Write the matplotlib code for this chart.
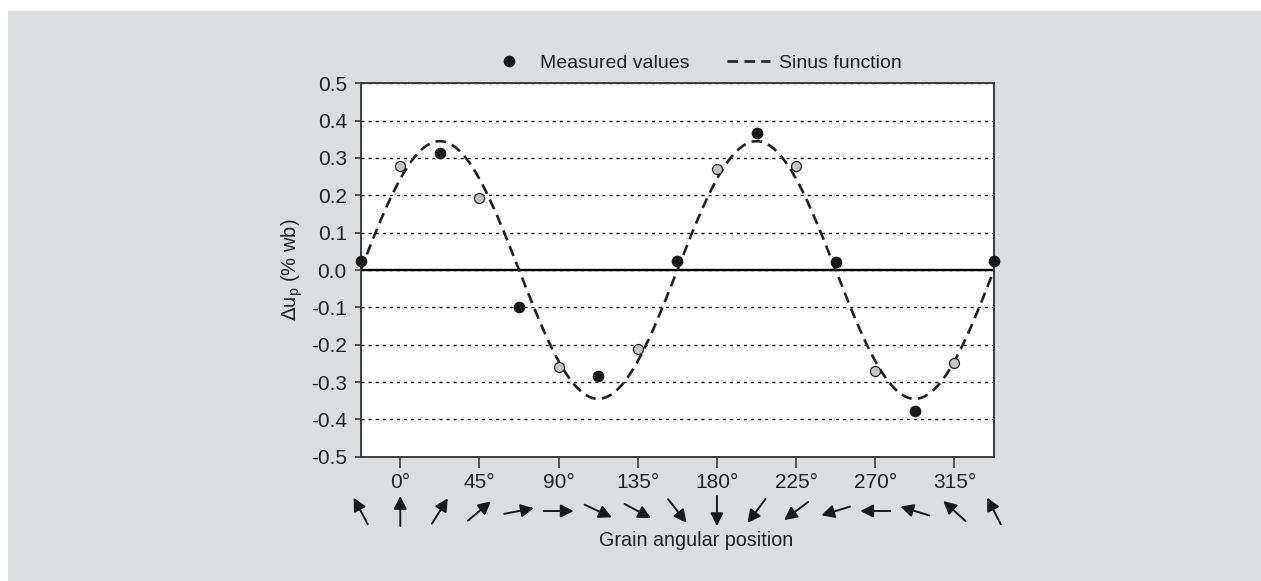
import matplotlib
matplotlib.use('Agg')
import matplotlib.pyplot as plt
import numpy as np
from matplotlib.patches import Rectangle, FancyArrowPatch
from matplotlib.lines import Line2D
from matplotlib.transforms import IdentityTransform

plt.rcParams['font.family'] = ['Liberation Sans', 'DejaVu Sans']
plt.rcParams['font.size'] = 14.5
plt.rcParams['axes.unicode_minus'] = False

# measured points (black = odd multiples of 22.5 deg, grey = multiples of 45 deg)
black_angles = [-22.5, 22.5, 67.5, 112.5, 157.5, 202.5, 247.5, 292.5, 337.5]
black_values = [0.023, 0.313, -0.098, -0.283, 0.024, 0.366, 0.022, -0.378, 0.023]
grey_angles = [0, 45, 90, 135, 180, 225, 270, 315]
grey_values = [0.278, 0.192, -0.259, -0.212, 0.270, 0.279, -0.270, -0.249]

# fitted sinus function
sin_amplitude = 0.345
sin_period = 180.0
sin_zero = -22.5

# grain arrows below the axis: heading in degrees, clockwise from "up"
arrow_angles = [-22.5, 0, 22.5, 45, 67.5, 90, 112.5, 135, 157.5, 180,
                202.5, 225, 247.5, 270, 292.5, 315, 337.5]
arrow_headings = [-28, 0, 32, 50, 79, 90, 115, 118, 142, 180,
                  217, 233, 253, 270, 287, 312, 333]

xticks = [0, 45, 90, 135, 180, 225, 270, 315]
yticks = np.round(np.arange(-0.5, 0.51, 0.1), 1) + 0.0

W, H = 1261, 581
fig = plt.figure(figsize=(W / 100, H / 100), dpi=100, facecolor='white')
fig.patches.append(Rectangle((8 / W, 0), 1, 1 - 11 / H, transform=fig.transFigure,
                             facecolor='#dcdddf', edgecolor='none', zorder=-10))

ax = fig.add_axes([360.7 / W, 1 - 456.7 / H, (994 - 360.7) / W, (456.7 - 83.3) / H])
ax.set_facecolor('white')

ax.set_xlim(-22.5, 337.5)
ax.set_ylim(-0.5, 0.5)

ax.grid(axis='y', color='black', linestyle=(0, (2.2, 2.9)), linewidth=1.0)
ax.axhline(0, color='black', lw=1.7, zorder=2)

xs = np.linspace(-22.5, 337.5, 400)
ys = sin_amplitude * np.sin(2 * np.pi * (xs - sin_zero) / sin_period)
ax.plot(xs, ys, color='#222222', lw=1.9, linestyle=(0, (4.0, 2.4)), zorder=3)

ax.plot(grey_angles, grey_values, 'o', ms=7.2, mfc='#c4c4c4', mec='#222222',
        mew=0.9, zorder=4, clip_on=False)
ax.plot(black_angles, black_values, 'o', ms=7.4, mfc='#1a1a1a', mec='#1a1a1a',
        zorder=5, clip_on=False)

for s in ax.spines.values():
    s.set_color('#3c3c3c')
    s.set_linewidth(1.4)

ax.set_yticks(yticks)
ax.set_yticklabels(['%.1f' % v for v in yticks])
ax.set_xticks(xticks)
ax.set_xticklabels(['%d°' % v for v in xticks])
ax.tick_params(axis='both', labelsize=15)
ax.tick_params(axis='y', direction='out', length=4, width=1.2, color='#3c3c3c', pad=6)
ax.tick_params(axis='x', direction='out', length=8, width=1.2, color='#3c3c3c', pad=4)
for lab in ax.get_xticklabels() + ax.get_yticklabels():
    lab.set_color('#222222')

ax.set_ylabel(r'$\Delta$u$_\mathregular{p}$ (% wb)', color='#222222', labelpad=4)

# legend
handles = [Line2D([], [], marker='o', ls='none', ms=7.4, mfc='#1a1a1a', mec='#1a1a1a'),
           Line2D([], [], color='#222222', lw=1.9, ls=(0, (4.0, 2.4)))]
fig.legend(handles, ['Measured values', 'Sinus function'], loc='center',
           bbox_to_anchor=(695 / W, 1 - 63 / H), ncol=2, frameon=False,
           handlelength=2.2, handletextpad=0.5, columnspacing=1.9,
           labelcolor='#222222', fontsize=14)

# arrows showing grain orientation
fig.canvas.draw()
y_center = H - 511
half = 15
for a, hd in zip(arrow_angles, arrow_headings):
    xc = ax.transData.transform((a, 0))[0]
    dx = half * np.sin(np.radians(hd))
    dy = half * np.cos(np.radians(hd))
    arr = FancyArrowPatch((xc - dx, y_center - dy), (xc + dx, y_center + dy),
                          transform=IdentityTransform(),
                          arrowstyle='-|>,head_length=0.55,head_width=0.28',
                          mutation_scale=14, lw=1.4, color='#1a1a1a',
                          shrinkA=0, shrinkB=0)
    fig.patches.append(arr)

fig.text(696 / W, 1 - 541 / H, 'Grain angular position', ha='center', va='center',
         color='#222222', fontsize=14.2)

fig.savefig('out.png', dpi=100, facecolor=fig.get_facecolor())
